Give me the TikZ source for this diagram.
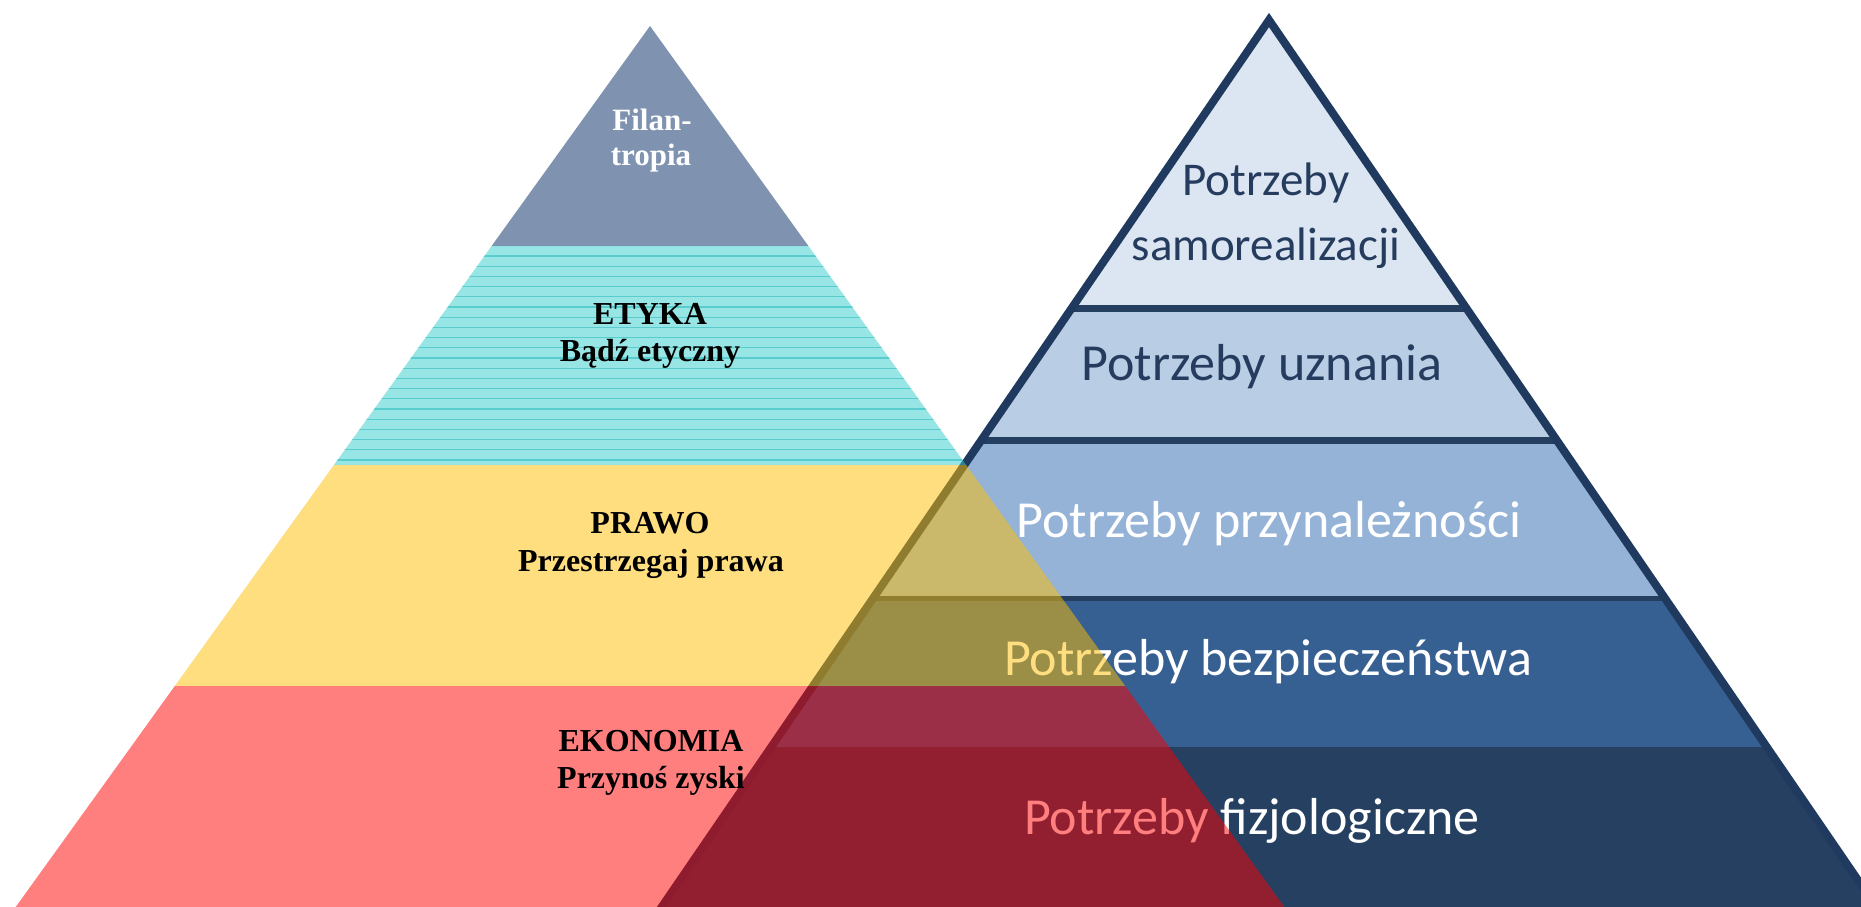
\documentclass[tikz,border=0pt]{standalone}
\usepackage{fontspec}
\setmainfont{Liberation Serif}
\newfontfamily\calibrifont{Carlito}
\definecolor{tierA}{HTML}{DCE6F2}
\definecolor{tierB}{HTML}{B9CDE5}
\definecolor{tierC}{HTML}{95B3D7}
\definecolor{tierD}{HTML}{376092}
\definecolor{tierE}{HTML}{254061}
\definecolor{outlineblue}{HTML}{1F3A5E}
\definecolor{sepblue}{HTML}{243F60}
\definecolor{darktext}{HTML}{253C5E}
\definecolor{filcol}{HTML}{002862}
\definecolor{cyancol}{HTML}{33CCCC}
\definecolor{cyanline}{HTML}{2FBDBD}
\definecolor{yelcol}{HTML}{FFBF00}
\definecolor{redcol}{HTML}{FF0000}
\begin{document}
\begin{tikzpicture}[x=1pt,y=-1pt,
  maslowbig/.style={font={\calibrifont\fontsize{52}{62}\selectfont}, anchor=base, inner sep=0pt},
  maslowtop/.style={font={\calibrifont\fontsize{47}{56}\selectfont}, anchor=base, inner sep=0pt, text=darktext},
  leftlabel/.style={font={\bfseries\fontsize{32}{38}\selectfont}, anchor=base, inner sep=0pt, text=black},
  filabel/.style={font={\bfseries\fontsize{31}{37}\selectfont}, anchor=base, inner sep=0pt, text=white},
  band/.style={fill opacity=0.5}
]
\useasboundingbox (0,0) rectangle (1861,907);
\fill[white] (0,0) rectangle (1861,907);

% ---------- right pyramid (Maslow) ----------
\coordinate (rapex) at (1269,20);
\coordinate (rbl) at (1269-671,1000);
\coordinate (rbr) at (1269+671,1000);
\begin{scope}
  \clip (0,0) rectangle (1861,907);
  \begin{scope}
    \clip (rapex) -- (rbl) -- (rbr) -- cycle;
    \fill[tierA] (500,0) rectangle (2000,308);
    \fill[tierB] (500,308) rectangle (2000,440);
    \fill[tierC] (500,440) rectangle (2000,598);
    \fill[tierD] (500,598) rectangle (2000,747);
    \fill[tierE] (500,747) rectangle (2000,1000);
    \draw[sepblue, line width=7pt] (500,308) -- (2000,308);
    \draw[sepblue, line width=7pt] (500,440) -- (2000,440);
    \draw[sepblue, line width=5pt] (500,598) -- (2000,598);
  \end{scope}
  \draw[outlineblue, line width=8pt, line join=miter] (rbl) -- (rapex) -- (rbr);
\end{scope}

\node[maslowtop] (m1a) at (1266,195) {Potrzeby};
\node[maslowtop] (m1b) at (1266,260) {samorealizacji};
\node[maslowbig, text=darktext] (m2) at (1262,380) {Potrzeby uznania};
\node[maslowbig, text=white] (m3) at (1269,537) {Potrzeby przynależności};
\node[maslowbig, text=white] (m4) at (1268,675) {Potrzeby bezpieczeństwa};
\node[maslowbig, text=white] (m5) at (1252,834) {Potrzeby fizjologiczne};

% ---------- left pyramid (CSR) ----------
\coordinate (lapex) at (650,26);
\fill[band, filcol] (lapex) -- (491.6,246) -- (808.4,246) -- cycle;
\fill[band, cyancol] (491.6,246) -- (808.4,246) -- (966.1,465) -- (333.9,465) -- cycle;
\begin{scope}
  \clip (491.6,246) -- (808.4,246) -- (966.1,465) -- (333.9,465) -- cycle;
  \foreach \i in {0,...,21} {
    \draw[cyanline, line width=1.1pt, opacity=0.6] (300,256+10.2*\i) -- (1000,256+10.2*\i);
  }
\end{scope}
\fill[band, yelcol] (333.9,465) -- (966.1,465) -- (1125.2,686) -- (174.8,686) -- cycle;
\fill[band, redcol] (174.8,686) -- (1125.2,686) -- (1284.3,907) -- (15.7,907) -- cycle;

\node[filabel] (f1) at (652,130) {Filan-};
\node[filabel] (f2) at (651,165) {tropia};
\node[leftlabel] (e1) at (650,324) {ETYKA};
\node[leftlabel] (e2) at (650,361) {Bądź etyczny};
\node[leftlabel] (p1) at (650,533) {PRAWO};
\node[leftlabel] (p2) at (651,571) {Przestrzegaj prawa};
\node[leftlabel] (k1) at (651,751) {EKONOMIA};
\node[leftlabel] (k2) at (651,788) {Przynoś zyski};
\end{tikzpicture}
\end{document}
